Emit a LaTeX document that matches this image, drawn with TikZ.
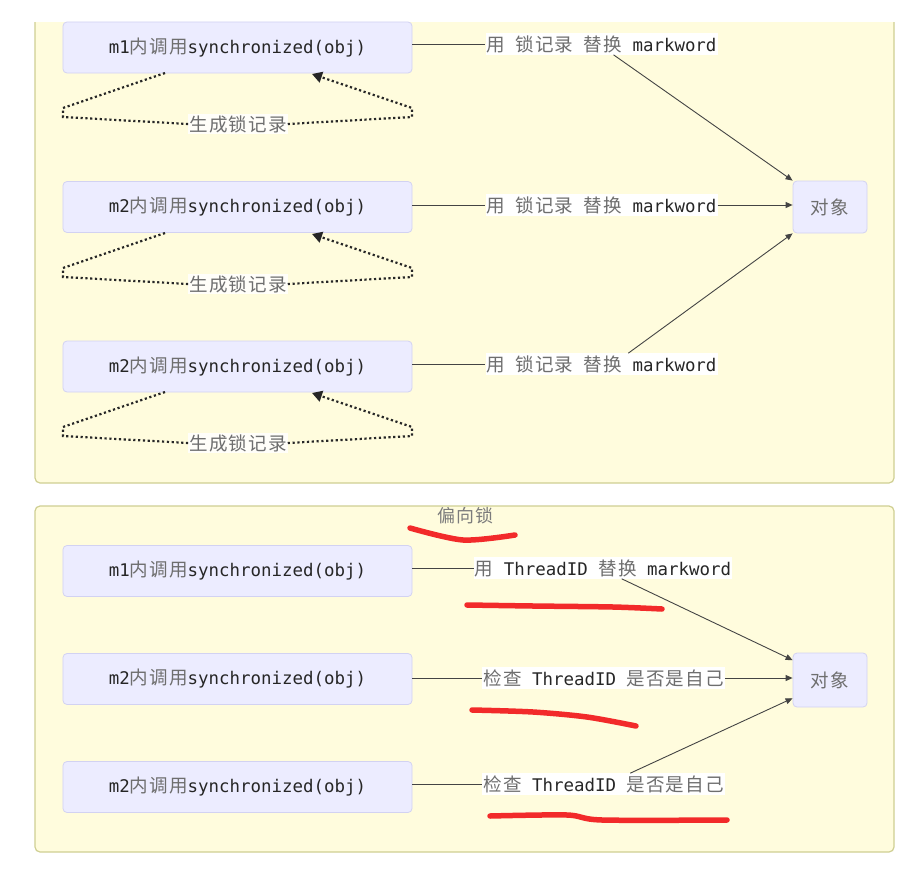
\documentclass[tikz,border=0pt]{standalone}
\usepackage{fontspec}
\setmonofont{DejaVu Sans Mono}
\newfontfamily\cjk[LetterSpace=6]{Noto Sans CJK SC}
\usetikzlibrary{arrows.meta}
\definecolor{boxfill}{HTML}{ECECFF}
\definecolor{boxline}{HTML}{D2D2F2}
\definecolor{frfill}{HTML}{FFFCDD}
\definecolor{frline}{HTML}{CFCF92}
\definecolor{txt}{HTML}{262626}
\definecolor{cjkc}{HTML}{6E6E6E}
\definecolor{edge}{HTML}{444444}
\definecolor{scribble}{HTML}{F22A2A}
\newcommand{\cj}[1]{{\cjk\fontsize{18.6}{21}\selectfont\color{cjkc}#1}}
\tikzset{
  x=1bp, y=-1bp,
  box/.style={draw=boxline, fill=boxfill, rounded corners=4bp, line width=0.8bp,
    minimum width=349bp, minimum height=51bp, inner sep=0pt,
    font=\ttfamily\fontsize{17.5}{20}\selectfont, text=txt},
  objbox/.style={box, minimum width=74bp, minimum height=52bp},
  elabel/.style={fill=white, inner xsep=1bp, inner ysep=2bp,
    font=\ttfamily\fontsize{17.5}{20}\selectfont, text=txt},
  loopl/.style={fill=white, fill opacity=0.85, text opacity=1, inner xsep=1bp, inner ysep=1bp},
  conn/.style={draw=edge, line width=0.9bp},
  arr/.style={conn, -{Triangle[length=7bp,width=6bp]}},
  dots/.style={draw=black!85, line width=2.2bp, dash pattern=on 2.2bp off 2.6bp},
  dotarr/.style={dots, -{Triangle[length=10bp,width=11bp]}},
  frame/.style={draw=frline, line width=1.2bp},
  redmark/.style={draw=scribble, line width=5.5bp, line cap=round, line join=round},
}
\begin{document}
\begin{tikzpicture}
\useasboundingbox (0,0) rectangle (924,873);
\fill[white] (0,0) rectangle (924,873);
% top frame (top edge cropped)
\fill[frfill, rounded corners=5bp] (35,10) rectangle (894,483);
\fill[frfill] (35,10) rectangle (894,30);
\fill[white] (0,0) rectangle (924,22);
\draw[frame, rounded corners=5bp] (35,22) -- (35,483) -- (894,483) -- (894,22);
% bottom frame
\filldraw[frame, fill=frfill, rounded corners=5bp] (35,506) rectangle (894,852);

% ---------- top part ----------
\node[box] (b1) at (237.5,47.5) {m1\cj{内调用}synchronized(obj)};
\node[box] (b2) at (237.5,207) {m2\cj{内调用}synchronized(obj)};
\node[box] (b3) at (237.5,366.5) {m2\cj{内调用}synchronized(obj)};
\node[objbox] (o1) at (830,207) {\cj{对象}};

\foreach \g/\yy in {g1/73, g2/233, g3/392} {
  \node[loopl] (\g) at (238,\yy+51) {\cj{生成锁记录}};
  \draw[dots] (165,\yy) -- (63,\yy+35) -- (63,\yy+44) -- (\g.west);
  \draw[dotarr] (\g.east) -- (412,\yy+44) -- (412,\yy+35) -- (312,\yy+1);
}

\node[elabel] (l1) at (601.5,44) {\cj{用} \cj{锁记录} \cj{替换} markword};
\node[elabel] (l2) at (601.5,205) {\cj{用} \cj{锁记录} \cj{替换} markword};
\node[elabel] (l3) at (601.5,364) {\cj{用} \cj{锁记录} \cj{替换} markword};

\draw[conn] (b1.east |- l1.west) -- (l1.west);
\draw[arr] (l1.-42) -- (o1.north west);
\draw[conn] (b2.east |- l2.west) -- (l2.west);
\draw[arr] (l2.east) -- (o1.west |- l2.east);
\draw[conn] (b3.east |- l3.west) -- (l3.west);
\draw[arr] (l3.22) -- (o1.south west);

% ---------- bottom part ----------
\node[font=\cjk\fontsize{18}{20}\selectfont, text=cjkc!90] (title) at (465.5,516) {偏向锁};
\node[box] (c1) at (237.5,571) {m1\cj{内调用}synchronized(obj)};
\node[box] (c2) at (237.5,679) {m2\cj{内调用}synchronized(obj)};
\node[box] (c3) at (237.5,787) {m2\cj{内调用}synchronized(obj)};
\node[objbox, minimum height=54bp] (o2) at (830,680) {\cj{对象}};

\node[elabel] (k1) at (603,568) {\cj{用} ThreadID \cj{替换} markword};
\node[elabel] (k2) at (603.5,678) {\cj{检查} ThreadID \cj{是否是自己}};
\node[elabel] (k3) at (603.5,784) {\cj{检查} ThreadID \cj{是否是自己}};

\draw[conn] (c1.east |- k1.west) -- (k1.west);
\draw[arr] (k1.-30) -- (o2.152);
\draw[conn] (c2.east |- k2.west) -- (k2.west);
\draw[arr] (k2.east) -- (o2.west |- k2.east);
\draw[conn] (c3.east |- k3.west) -- (k3.west);
\draw[arr] (k3.22) -- (o2.206);

% red hand-drawn underlines
\draw[redmark] plot[smooth] coordinates {(410,528) (463,540) (515,535)};
\draw[redmark] plot[smooth] coordinates {(467,605) (533,606) (613,607) (662,609)};
\draw[redmark] plot[smooth] coordinates {(472,710) (533,712) (587,717) (636,726)};
\draw[redmark] plot[smooth] coordinates {(490,816) (567,815) (602,820) (727,820)};
\end{tikzpicture}
\end{document}
